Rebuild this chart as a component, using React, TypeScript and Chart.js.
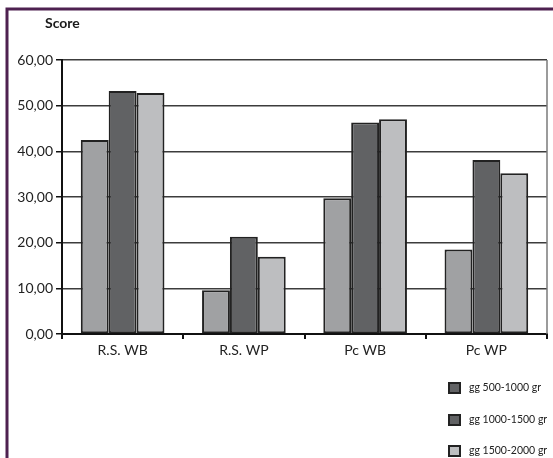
import React, { useEffect, useRef } from "react";
import { Chart, registerables } from "chart.js";

Chart.register(...registerables);

const categories = ["R.S. WB", "R.S. WP", "Pc WB", "Pc WP"];
const seriesNames = ["gg 500-1000 gr", "gg 1000-1500 gr", "gg 1500-2000 gr"];
const series500 = [42.5, 9.6, 29.7, 18.5];
const series1000 = [53.2, 21.3, 46.3, 38.1];
const series1500 = [52.8, 16.9, 47.0, 35.2];
const barColors = ["#a0a1a3", "#616264", "#bdbec0"];
const legendColors = ["#616264", "#616264", "#bdbec0"];
const yTicks = [0, 10, 20, 30, 40, 50, 60];

const FONT = "Lato, 'Open Sans', 'DejaVu Sans', sans-serif";

const decorPlugin = {
  id: "decor",
  beforeDraw(chart: any) {
    const ctx = chart.ctx;
    ctx.save();
    ctx.fillStyle = "#ffffff";
    ctx.fillRect(0, 0, chart.width, chart.height);
    ctx.restore();
  },
  afterDraw(chart: any) {
    const ctx = chart.ctx;
    const ca = chart.chartArea;
    ctx.save();
    // frame
    ctx.strokeStyle = "#4e2150";
    ctx.lineWidth = 3;
    ctx.beginPath();
    ctx.moveTo(7, chart.height);
    ctx.lineTo(7, 9);
    ctx.lineTo(chart.width, 9);
    ctx.stroke();
    // right edge of plot
    ctx.strokeStyle = "#7a7a7a";
    ctx.lineWidth = 1.5;
    ctx.beginPath();
    ctx.moveTo(ca.right, ca.top);
    ctx.lineTo(ca.right, ca.bottom);
    ctx.stroke();
    // Score title
    ctx.fillStyle = "#1a1a1a";
    ctx.font = `bold 14px ${FONT}`;
    ctx.textBaseline = "middle";
    ctx.textAlign = "left";
    ctx.fillText("Score", 45, 23);
    // legend
    let size = 12;
    ctx.font = `${size}px ${FONT}`;
    const w = ctx.measureText(seriesNames[2]).width;
    if (w > 80) size = Math.floor((size * 80) / w * 2) / 2;
    ctx.font = `${size}px ${FONT}`;
    const rows = [388, 420, 451];
    seriesNames.forEach((name, i) => {
      const y = rows[i];
      ctx.fillStyle = legendColors[i];
      ctx.fillRect(448, y - 6, 13, 12);
      ctx.strokeStyle = "#222";
      ctx.lineWidth = 2;
      ctx.strokeRect(449, y - 5, 11, 10);
      ctx.fillStyle = "#222";
      ctx.fillText(name, 469, y);
    });
    ctx.restore();
  },
};

export default function App() {
  const ref = useRef<HTMLCanvasElement>(null);
  useEffect(() => {
    if (!ref.current) return;
    const data = [series500, series1000, series1500];
    const chart = new Chart(ref.current, {
      type: "bar",
      data: {
        labels: categories,
        datasets: seriesNames.map((n, i) => ({
          label: n,
          data: data[i],
          backgroundColor: barColors[i],
          borderColor: "#222222",
          borderWidth: 2,
          borderSkipped: false,
          categoryPercentage: 0.69,
          barPercentage: 1,
        })),
      },
      options: {
        responsive: false,
        maintainAspectRatio: false,
        animation: false,
        layout: { padding: { left: 0, right: 6, top: 60, bottom: 0 } },
        plugins: {
          legend: { display: false },
          title: { display: false },
          tooltip: { enabled: false },
        },
        scales: {
          x: {
            offset: true,
            grid: {
              offset: true,
              drawOnChartArea: false,
              drawTicks: true,
              tickLength: 5,
              color: "#111",
              lineWidth: 2,
            },
            border: { display: true, color: "#111", width: 2 },
            ticks: {
              color: "#222",
              font: { family: FONT, size: 14 },
              padding: 3,
            },
            afterFit(scale: any) {
              scale.height = 124;
            },
          },
          y: {
            min: 0,
            max: 60,
            afterBuildTicks(scale: any) {
              scale.ticks = yTicks.map((v) => ({ value: v }));
            },
            grid: {
              color: "#3c3c3c",
              lineWidth: 1.5,
              drawTicks: true,
              tickLength: 6,
              tickColor: "#111",
            },
            border: { display: true, color: "#111", width: 2 },
            ticks: {
              color: "#222",
              font: { family: FONT, size: 14 },
              padding: 3,
              callback: (v: any) => Number(v).toFixed(2).replace(".", ","),
            },
            afterFit(scale: any) {
              scale.width = 62;
            },
          },
        },
      },
      plugins: [decorPlugin],
    });
    return () => chart.destroy();
  }, []);
  return (
    <div style={{ position: "absolute", left: 0, top: 0, width: 553, height: 458, background: "#fff" }}>
      <canvas ref={ref} width={553} height={458} style={{ width: 553, height: 458, display: "block" }} />
    </div>
  );
}
